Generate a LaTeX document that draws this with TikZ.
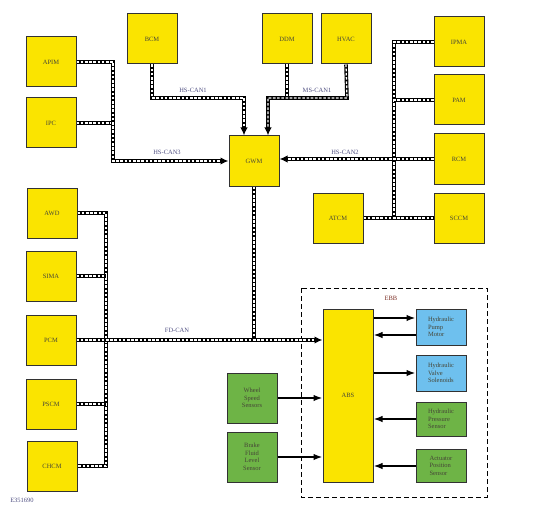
\documentclass[tikz,border=0pt]{standalone}
\usepackage{fontspec}
\setmainfont{Liberation Serif}
\usetikzlibrary{arrows.meta,calc}
\definecolor{ybox}{RGB}{250,228,0}
\definecolor{gbox}{RGB}{110,180,70}
\definecolor{bbox}{RGB}{110,192,238}
\definecolor{txt}{RGB}{70,70,55}
\definecolor{lbl}{RGB}{80,80,130}
\definecolor{edge}{RGB}{50,50,50}
\tikzset{
  mod/.style={draw=edge, line width=1pt, fill=ybox, minimum width=50pt, minimum height=50pt, inner sep=0pt, font=\fontsize{6.5}{7.5}\selectfont, text=txt},
  gmod/.style={mod, fill=gbox, align=center},
  bmod/.style={mod, fill=bbox, align=left},
  bus/.style={line width=3.6pt, draw=black, postaction={draw=white, line width=1.3pt, dash pattern=on 2.6pt off 1.6pt, arrows=-}},
  busarrow/.style={line width=3.6pt, draw=black, -{Latex[length=8pt,width=7.5pt]}, postaction={draw=white, line width=1.3pt, dash pattern=on 2.6pt off 1.6pt, arrows=-, shorten >=8pt}},
  sig/.style={line width=1.6pt, draw=black, -{Latex[length=9pt,width=6.5pt]}},
  lab/.style={font=\fontsize{6.5}{7.5}\selectfont, text=lbl, inner sep=0pt},
}
\begin{document}
\begin{tikzpicture}[x=1pt,y=-1pt]
\useasboundingbox (0,0) rectangle (538,516);
% nodes
\node[mod] (APIM) at (51,62) {APIM};
\node[mod] (IPC) at (51,123) {IPC};
\node[mod] (BCM) at (152,39) {BCM};
\node[mod] (GWM) at (254,161) {GWM};
\node[mod] (DDM) at (287,39) {DDM};
\node[mod] (HVAC) at (346,39) {HVAC};
\node[mod] (IPMA) at (459,42) {IPMA};
\node[mod] (PAM) at (459,100) {PAM};
\node[mod] (RCM) at (459,159) {RCM};
\node[mod] (SCCM) at (459,218) {SCCM};
\node[mod] (ATCM) at (338,218) {ATCM};
\node[mod] (AWD) at (52,213) {AWD};
\node[mod] (SIMA) at (51,276) {SIMA};
\node[mod] (PCM) at (51,340) {PCM};
\node[mod] (PSCM) at (51,404) {PSCM};
\node[mod] (CHCM) at (52,466) {CHCM};
\node[gmod] (WSS) at (252,398) {Wheel\\Speed\\Sensors};
\node[gmod] (BFLS) at (252,457) {Brake\\Fluid\\Level\\Sensor};
\draw[line width=0.8pt, dash pattern=on 5pt off 3pt] (301,288) rectangle (487,497);
\node[lab, text=txt!70!red] (EBB) at (391,298) {EBB};
\node[mod, minimum height=173pt] (ABS) at (348,395.5) {ABS};
\node[bmod, minimum height=36pt] (HPM) at (441,327) {Hydraulic\\Pump\\Motor};
\node[bmod, minimum height=36pt] (HVS) at (441,373) {Hydraulic\\Valve\\Solenoids};
\node[gmod, align=left, minimum height=34pt] (HPS) at (441,419) {Hydraulic\\Pressure\\Sensor};
\node[gmod, align=left, minimum height=33pt] (APS) at (441,465.5) {Actuator\\Position\\Sensor};
% coordinates
\coordinate (c3) at (113,62);
\coordinate (c3b) at (113,161);
\coordinate (c1a) at (152,98);
\coordinate (c1b) at (244,98);
\coordinate (m1a) at (347,98);
\coordinate (m1b) at (268,98);
\coordinate (m1d) at (287,98);
\coordinate (r1) at (394,42);
\coordinate (r2) at (394,218);
\coordinate (l1) at (106,213);
\coordinate (l2) at (106,466);
\coordinate (y318) at (0,318);
\coordinate (y335) at (0,335);
\coordinate (y373) at (0,373);
\coordinate (y419) at (0,419);
\coordinate (y466) at (0,466);
% HS-CAN3
\draw[bus] (IPC.east) -- (IPC.east -| c3);
\draw[busarrow] (APIM.east) -- (c3) -- (c3b) -- (GWM.west);
% HS-CAN1
\draw[busarrow] (BCM.south) -- (c1a) -- (c1b) -- (c1b |- GWM.north);
% MS-CAN1
\draw[bus] (DDM.south) -- (m1d);
\draw[busarrow] (HVAC.south) -- (m1a) -- (m1b) -- (m1b |- GWM.north);
% HS-CAN2
\draw[bus] (IPMA.west) -- (r1) -- (r2);
\draw[bus] (PAM.west) -- (PAM.west -| r1);
\draw[bus] (ATCM.east) -- (SCCM.west);
\draw[busarrow] (RCM.west) -- (GWM.east |- RCM.west);
% FD-CAN
\draw[bus] (AWD.east) -- (l1) -- (l2) -- (CHCM.east);
\draw[bus] (SIMA.east) -- (SIMA.east -| l1);
\draw[bus] (PSCM.east) -- (PSCM.east -| l1);
\draw[bus] (GWM.south) -- (GWM.south |- PCM.east);
\draw[busarrow] (PCM.east) -- (ABS.west |- PCM.east);
% signals
\draw[sig] (WSS.east) -- (ABS.west |- WSS.east);
\draw[sig] (BFLS.east) -- (ABS.west |- BFLS.east);
\draw[sig] (ABS.east |- y318) -- (HPM.west |- y318);
\draw[sig] (HPM.west |- y335) -- (ABS.east |- y335);
\draw[sig] (ABS.east |- y373) -- (HVS.west |- y373);
\draw[sig] (HPS.west |- y419) -- (ABS.east |- y419);
\draw[sig] (APS.west |- y466) -- (ABS.east |- y466);
% labels
\node[lab] (L1) at (193,90) {HS-CAN1};
\node[lab] (L2) at (317,90) {MS-CAN1};
\node[lab] (L3) at (167,152) {HS-CAN3};
\node[lab] (L4) at (345,152) {HS-CAN2};
\node[lab] (L5) at (177,330) {FD-CAN};
\node[lab] (ID) at (22,500) {E351690};
\end{tikzpicture}
\end{document}
